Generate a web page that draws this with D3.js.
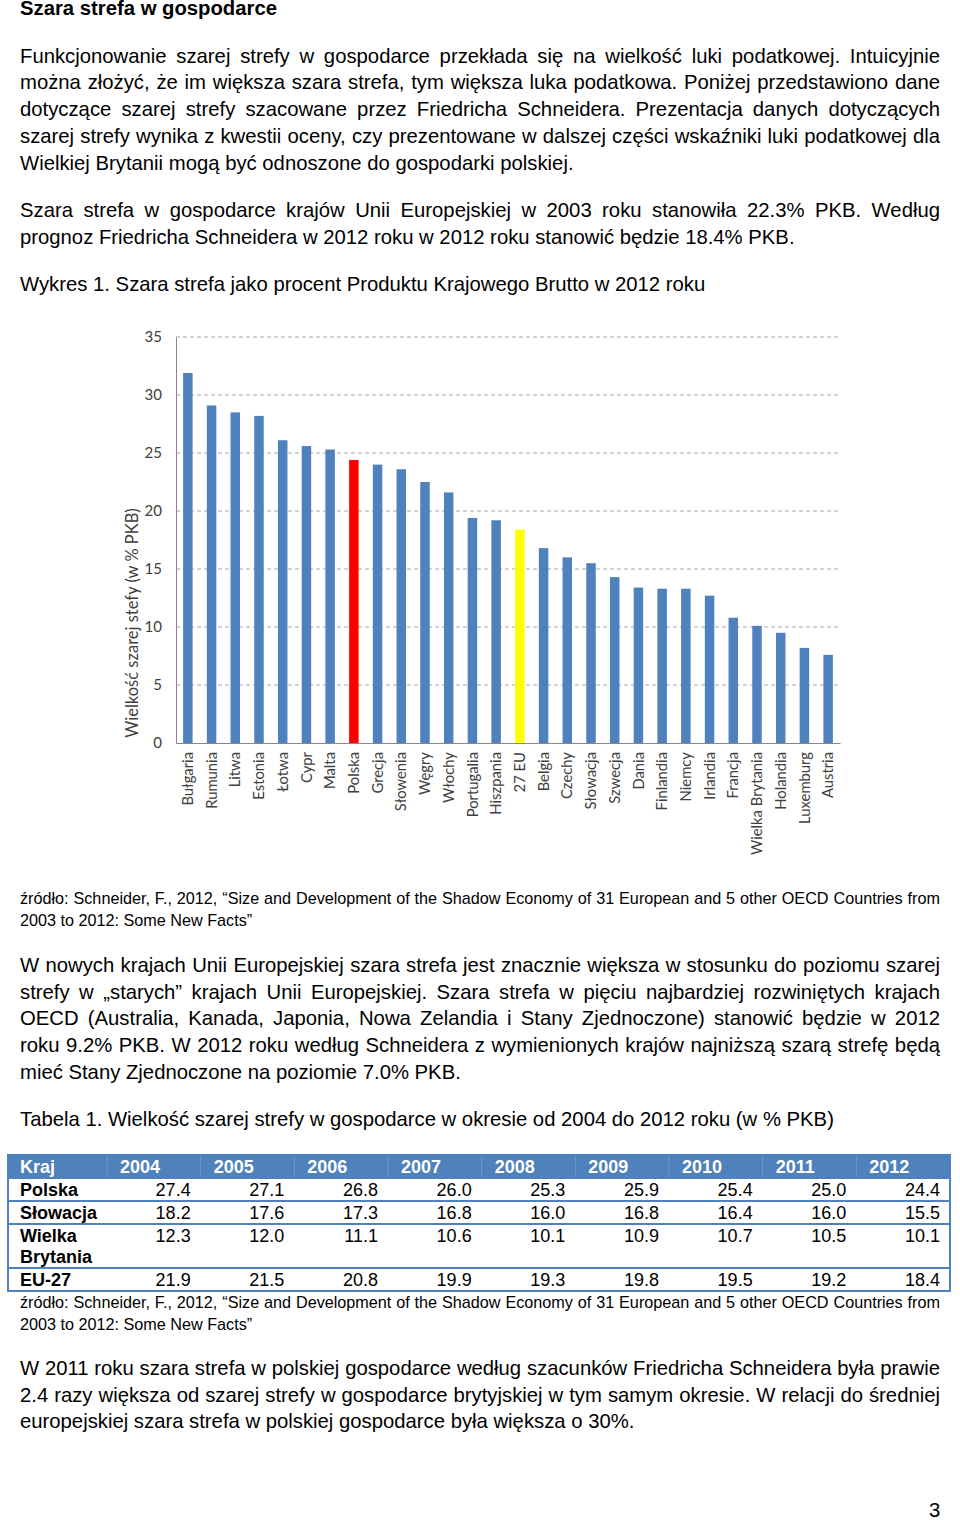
<!DOCTYPE html>
<html><head><meta charset="utf-8">
<script src="https://cdn.jsdelivr.net/npm/d3@7"></script>
<style>
html,body{margin:0;padding:0;background:#fff;}
body{width:960px;height:1520px;position:relative;overflow:hidden;font-family:"Liberation Sans",Arial,sans-serif;color:#000;}
.ln{position:absolute;left:20px;width:920px;white-space:nowrap;line-height:20px;height:20px;}
.j{text-align:justify;text-align-last:justify;white-space:normal;}
svg{position:absolute;left:0;top:0;}
</style></head><body>
<script>
// ---- chart data ----
const countries = ["Bułgaria","Rumunia","Litwa","Estonia","Łotwa","Cypr","Malta","Polska","Grecja","Słowenia","Węgry","Włochy","Portugalia","Hiszpania","27 EU","Belgia","Czechy","Słowacja","Szwecja","Dania","Finlandia","Niemcy","Irlandia","Francja","Wielka Brytania","Holandia","Luxemburg","Austria"];
const shadow2012 = [31.9,29.1,28.5,28.2,26.1,25.6,25.3,24.4,24.0,23.6,22.5,21.6,19.4,19.2,18.4,16.8,16.0,15.5,14.3,13.4,13.3,13.3,12.7,10.8,10.1,9.5,8.2,7.6];
const yTicks = [0,5,10,15,20,25,30,35];
const yTitle = "Wielkość szarej stefy (w % PKB)";

// ---- table data ----
const tableYears = ["2004","2005","2006","2007","2008","2009","2010","2011","2012"];
const tableRows = ["Polska","Słowacja","Wielka Brytania","EU-27"];
const polska = [27.4,27.1,26.8,26.0,25.3,25.9,25.4,25.0,24.4];
const slowacja = [18.2,17.6,17.3,16.8,16.0,16.8,16.4,16.0,15.5];
const wielkaBrytania = [12.3,12.0,11.1,10.6,10.1,10.9,10.7,10.5,10.1];
const eu27 = [21.9,21.5,20.8,19.9,19.3,19.8,19.5,19.2,18.4];

// ---- page text ----
const textLines = [
 {t:"Szara strefa w gospodarce", y:8, bold:true},
 {t:"Funkcjonowanie szarej strefy w gospodarce przekłada się na wielkość luki podatkowej. Intuicyjnie", y:56, j:true},
 {t:"można złożyć, że im większa szara strefa, tym większa luka podatkowa. Poniżej przedstawiono dane", y:82, j:true},
 {t:"dotyczące szarej strefy szacowane przez Friedricha Schneidera. Prezentacja danych dotyczących", y:109, j:true},
 {t:"szarej strefy wynika z kwestii oceny, czy prezentowane w dalszej części wskaźniki luki podatkowej dla", y:136, j:true},
 {t:"Wielkiej Brytanii mogą być odnoszone do gospodarki polskiej.", y:163},
 {t:"Szara strefa w gospodarce krajów Unii Europejskiej w 2003 roku stanowiła 22.3% PKB. Według", y:210, j:true},
 {t:"prognoz Friedricha Schneidera w 2012 roku w 2012 roku stanowić będzie 18.4% PKB.", y:237},
 {t:"Wykres 1. Szara strefa jako procent Produktu Krajowego Brutto w 2012 roku", y:284},
 {t:"źródło: Schneider, F., 2012, “Size and Development of the Shadow Economy of 31 European and 5 other OECD Countries from", y:898, j:true, small:true},
 {t:"2003 to 2012: Some New Facts”", y:920, small:true},
 {t:"W nowych krajach Unii Europejskiej szara strefa jest znacznie większa w stosunku do poziomu szarej", y:965, j:true},
 {t:"strefy w „starych” krajach Unii Europejskiej. Szara strefa w pięciu najbardziej rozwiniętych krajach", y:992, j:true},
 {t:"OECD (Australia, Kanada, Japonia, Nowa Zelandia i Stany Zjednoczone) stanowić będzie w 2012", y:1018, j:true},
 {t:"roku 9.2% PKB. W 2012 roku według Schneidera z wymienionych krajów najniższą szarą strefę będą", y:1045, j:true},
 {t:"mieć Stany Zjednoczone na poziomie 7.0% PKB.", y:1072},
 {t:"Tabela 1. Wielkość szarej strefy w gospodarce w okresie od 2004 do 2012 roku (w % PKB)", y:1119},
 {t:"źródło: Schneider, F., 2012, “Size and Development of the Shadow Economy of 31 European and 5 other OECD Countries from", y:1302, j:true, small:true},
 {t:"2003 to 2012: Some New Facts”", y:1324, small:true},
 {t:"W 2011 roku szara strefa w polskiej gospodarce według szacunków Friedricha Schneidera była prawie", y:1368, j:true},
 {t:"2.4 razy większa od szarej strefy w gospodarce brytyjskiej w tym samym okresie. W relacji do średniej", y:1395, j:true},
 {t:"europejskiej szara strefa w polskiej gospodarce była większa o 30%.", y:1421}
];

const body = d3.select("body");
body.selectAll("div.ln").data(textLines).join("div")
  .attr("class", d => "ln" + (d.j ? " j" : ""))
  .style("top", d => (d.y - 10) + "px")
  .style("font-size", d => d.small ? "16.2px" : "20.3px")
  .style("font-weight", d => d.bold ? "bold" : "normal")
  .text(d => d.t);
body.append("div").attr("class","ln").style("left","929px").style("width","20px")
  .style("top","1500px").style("font-size","20.3px").text("3");

const svg = body.append("svg").attr("width",960).attr("height",1520);

// ---- chart ----
const x = d3.scaleBand().domain(countries).range([176,840]).paddingInner(0.6).paddingOuter(0.3);
const y = d3.scaleLinear().domain([0,35]).range([743,337]);
const chartFont = "Lato, 'Open Sans', sans-serif";

const grid = svg.append("g");
grid.selectAll("line").data(yTicks.filter(t => t > 0)).join("line")
  .attr("x1",176).attr("x2",840).attr("y1",d=>y(d)).attr("y2",d=>y(d))
  .attr("stroke","#a6a6a6").attr("stroke-width",1).attr("stroke-dasharray","4,3");

const yAxis = d3.axisLeft(y).tickValues(yTicks).tickSize(0).tickPadding(14);
const gy = svg.append("g").attr("transform","translate(176,0)").call(yAxis);
gy.select(".domain").attr("stroke","#888").attr("stroke-width",1);
gy.selectAll("text").attr("font-family",chartFont).attr("font-size",15).attr("fill","#404040");

svg.append("g").selectAll("rect").data(countries).join("rect")
  .attr("x", d => x(d)).attr("width", x.bandwidth())
  .attr("y", (d,i) => y(shadow2012[i])).attr("height", (d,i) => y(0) - y(shadow2012[i]))
  .attr("fill", d => d === "Polska" ? "#ff0000" : d === "27 EU" ? "#ffff00" : "#4f81bd");

const xAxis = d3.axisBottom(x).tickSize(0).tickPadding(0);
const gx = svg.append("g").attr("transform","translate(0,743)").call(xAxis);
gx.select(".domain").attr("stroke","#888").attr("stroke-width",1);
gx.selectAll("text").attr("font-family",chartFont).attr("font-size",14.8).attr("fill","#404040")
  .attr("text-anchor","end").attr("transform","rotate(-90)").attr("x",-9).attr("y",0).attr("dy","0.35em");

svg.append("text").attr("transform","translate(138,623) rotate(-90)").attr("text-anchor","middle")
  .attr("font-family",chartFont).attr("font-size",16.5).attr("fill","#404040").text(yTitle);

// ---- table ----
const tx0 = 8, tx1 = 950, firstW = 99;
const colW = (tx1 - tx0 - firstW) / tableYears.length;
const colX = i => tx0 + firstW + i * colW;
const rowTops = [1155,1178,1201,1224,1268,1291];
const rowVals = [polska, slowacja, wielkaBrytania, eu27];
const blue = "#4f81bd";
const tg = svg.append("g").attr("font-family","'Liberation Sans',Arial,sans-serif").attr("font-size",18);
tg.append("rect").attr("x",tx0).attr("y",rowTops[0]).attr("width",tx1-tx0).attr("height",rowTops[1]-rowTops[0]).attr("fill",blue);
tg.selectAll("line.sep").data(tableYears).join("line").attr("class","sep")
  .attr("x1",(d,i)=>colX(i)).attr("x2",(d,i)=>colX(i)).attr("y1",rowTops[0]).attr("y2",rowTops[1])
  .attr("stroke","#6f97c9").attr("stroke-width",1);
tg.append("text").attr("x",20).attr("y",rowTops[0]+18).attr("fill","#fff").attr("font-weight","bold").text("Kraj");
tg.selectAll("text.yr").data(tableYears).join("text").attr("class","yr")
  .attr("x",(d,i)=>colX(i)+13).attr("y",rowTops[0]+18).attr("fill","#fff").attr("font-weight","bold").text(d=>d);
tg.selectAll("line.row").data(rowTops.slice(1)).join("line").attr("class","row")
  .attr("x1",tx0).attr("x2",tx1).attr("y1",d=>d).attr("y2",d=>d).attr("stroke",blue).attr("stroke-width",2);
tg.append("rect").attr("x",tx0).attr("y",rowTops[0]).attr("width",tx1-tx0).attr("height",rowTops[5]-rowTops[0])
  .attr("fill","none").attr("stroke",blue).attr("stroke-width",2);
tableRows.forEach((r,ri) => {
  const top = rowTops[ri+1];
  const parts = r === "Wielka Brytania" ? ["Wielka","Brytania"] : [r];
  parts.forEach((p,k) => tg.append("text").attr("x",20).attr("y",top+18+k*21).attr("font-weight","bold").text(p));
  tg.selectAll(null).data(rowVals[ri]).join("text")
    .attr("x",(d,i)=>colX(i+1)-10).attr("y",top+18).attr("text-anchor","end").text(d=>d.toFixed(1));
});
</script>
</body></html>
